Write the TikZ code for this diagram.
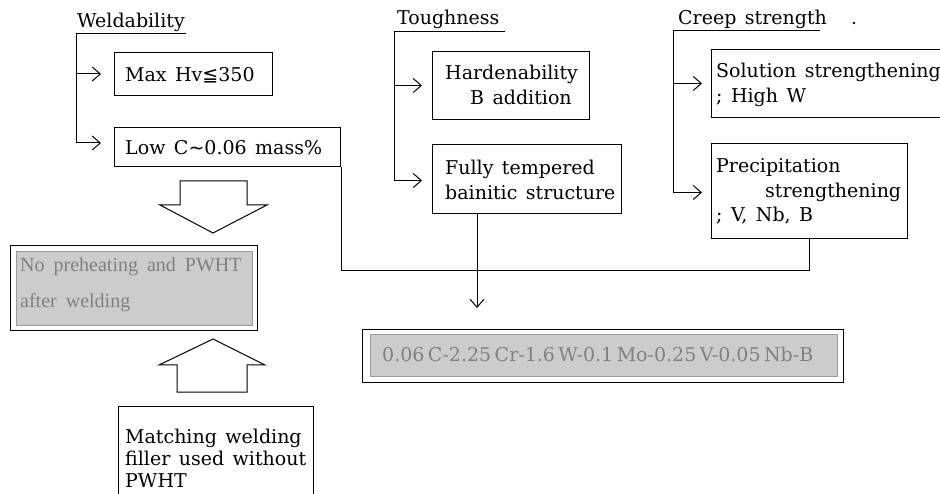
\documentclass[tikz,border=0pt]{standalone}
\usepackage{fontspec}
\setmainfont{DejaVu Serif}[WordSpace=1.4]
\newfontfamily\symfont{DejaVu Sans}
\newfontfamily\grayfont{Liberation Serif}[WordSpace=1.8]
\usetikzlibrary{arrows.meta}
\newcommand\lns[1]{\parbox[t]{300pt}{\raggedright #1}}
\begin{document}
\begin{tikzpicture}[x=1pt,y=-1pt,
  box/.style={draw, inner sep=0pt, anchor=north west, line width=1pt},
  txt/.style={anchor=base west, inner sep=0pt, font=\fontsize{19}{24.5}\selectfont},
  gtxt/.style={txt, text=black!50},
  ln/.style={line width=1pt},
  arr/.style={line width=1pt, -{Straight Barb[length=8pt,width=14pt,line width=1pt]}},
  hollow/.style={line width=1pt, draw, fill=white, line join=miter},
  shade/.style={fill=black!20, draw=black!40, line width=0.4pt}]
\useasboundingbox (0,0) rectangle (940,494);
% boxes
\node[box, minimum width=158pt, minimum height=43pt] (maxhv) at (114,52) {};
\node[box, minimum width=226pt, minimum height=39pt] (lowc) at (114,127) {};
\node[box, minimum width=157pt, minimum height=68pt] (hard) at (432,51) {};
\node[box, minimum width=189pt, minimum height=69pt] (fully) at (432,144) {};
\node[box, minimum width=240pt, minimum height=68pt] (sol) at (711,49) {};
\node[box, minimum width=196pt, minimum height=95pt] (prec) at (711,143) {};
\node[box, minimum width=247pt, minimum height=85pt] (nopre) at (10,245) {};
\node[box, minimum width=481pt, minimum height=53pt] (comp) at (362,329) {};
\node[box, minimum width=195pt, minimum height=100pt] (match) at (118,406) {};
\fill[shade] ([shift={(6,6)}]nopre.north west) rectangle ([shift={(-6,-6)}]nopre.south east);
\fill[shade] ([shift={(8,5)}]comp.north west) rectangle ([shift={(-7,-7)}]comp.south east);
% titles
\node[txt] (weldT) at (77,28) {Weldability};
\node[txt] (toughT) at (397,25) {Toughness};
\node[txt] (creepT) at (678,25) {Creep strength};
\node[circle, fill, inner sep=0pt, minimum size=2.6pt] (dot) at (854,23) {};
% texts
\node[txt] (maxhvT) at (125,82) {Max Hv{\symfont ≦}350};
\node[txt] (lowcT) at (125,155) {Low C{\symfont ∼}0.06 mass\%};
\node[txt] (hardT) at (445,80) {\lns{Hardenability\\\hspace*{25pt}B addition}};
\node[txt] (fullyT) at (445,175) {\lns{Fully tempered\\bainitic structure}};
\node[txt] (solT) at (716,78) {\lns{Solution strengthening\\; High W}};
\node[txt] (precT) at (716,173) {\lns{Precipitation\\\hspace*{49pt}strengthening\\; V, Nb, B}};
\node[txt, font=\fontsize{19}{22}\selectfont] (matchT) at (125,443) {\lns{Matching welding\\filler used without\\PWHT}};
\node[gtxt, font=\grayfont\fontsize{20}{36}\selectfont] (nopreT) at (20,272) {\lns{No preheating and PWHT\\after welding}};
\node[gtxt] (compT) at (382,362) {0.06\hspace{3.5pt}C-2.25\hspace{3.5pt}Cr-1.6\hspace{3.5pt}W-0.1\hspace{3.5pt}Mo-0.25\hspace{3.5pt}V-0.05\hspace{3.5pt}Nb-B};
% weldability connectors
\coordinate (w0) at (76,34); \coordinate (w1) at (186,34);
\draw[ln] (w1) -- (w0);
\draw[arr] (w0) |- ([xshift=-13pt,yshift=4pt]lowc.west);
\draw[arr] (w0 |- maxhv.west) -- ([xshift=-13pt]maxhv.west);
% toughness connectors
\coordinate (t0) at (394,32); \coordinate (t1) at (505,32);
\draw[ln] (t1) -- (t0);
\draw[arr] (t0) |- ([xshift=-10pt,yshift=-1.5pt]fully.west);
\draw[arr] (t0 |- hard.west) -- ([xshift=-10pt]hard.west);
% creep connectors
\coordinate (c0) at (673,31); \coordinate (c1) at (820,31);
\draw[ln] (c1) -- (c0);
\draw[arr] (c0) |- ([xshift=-9pt,yshift=-1.5pt]prec.west);
\draw[arr] (c0 |- sol.west) -- ([xshift=-9pt]sol.west);
% bottom connectors
\coordinate (j) at (340,271);
\draw[ln] (lowc.south east) -- (lowc.south east |- j) -| (prec.south);
\coordinate (ft) at (477,308);
\draw[arr] (fully.south west -| ft) -- (ft);
% hollow arrows
\draw[hollow] (180,181) -- (247,181) -- (247,205) -- (267,205) -- (213,233) -- (160,205) -- (180,205) -- cycle;
\draw[hollow] (213,339) -- (265,365) -- (247,365) -- (247,392) -- (177,392) -- (177,365) -- (159,365) -- cycle;
\end{tikzpicture}
\end{document}
